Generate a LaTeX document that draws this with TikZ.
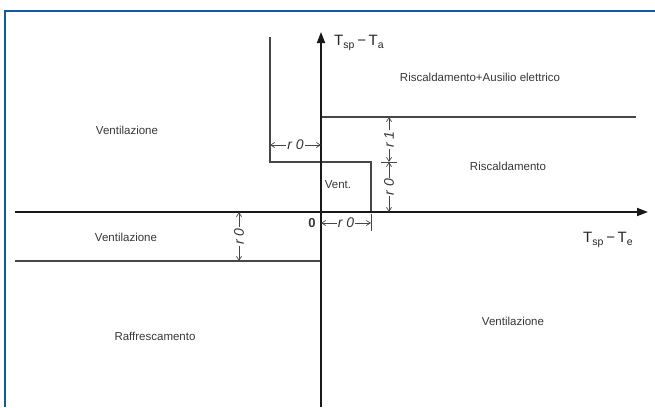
\documentclass[tikz,border=0pt]{standalone}
\usepackage{fontspec}
\setmainfont{Liberation Sans}
\usetikzlibrary{arrows.meta}
\definecolor{frameblue}{RGB}{22,88,160}
\definecolor{linegray}{RGB}{70,70,70}
\definecolor{txtgray}{RGB}{55,55,55}
\tikzset{
  axis/.style={draw=black!90, line width=1.8pt, -{Triangle[length=11pt,width=8pt]}},
  bound/.style={draw=linegray, line width=1.3pt},
  dimarr/.style={draw=linegray, line width=0.7pt, {Straight Barb[length=4pt,width=5pt]}-{Straight Barb[length=4pt,width=5pt]}},
  dimlbl/.style={fill=white, inner sep=1pt, text=txtgray, font=\fontsize{14}{14}\selectfont\itshape},
  region/.style={text=txtgray, font=\fontsize{11.5}{12}\selectfont, inner sep=0pt},
  axlbl/.style={text=black!85, font=\fontsize{15}{15}\selectfont, inner sep=0pt}
}
\begin{document}
\begin{tikzpicture}[x=1pt,y=-1pt]
\useasboundingbox (0,0) rectangle (655,407);
% frame
\draw[frameblue, line width=2.6pt] (5,407) -- (5,11) -- (655,11);
% coordinates
\coordinate (O) at (321,212);
\coordinate (xs) at (15,212);
\coordinate (xe) at (648,212);
\coordinate (ys) at (321,407);
\coordinate (ye) at (321,32);
% boundaries
\coordinate (a1) at (270,37);
\coordinate (a2) at (270,162);
\coordinate (a3) at (371,162);
\coordinate (a4) at (371,212);
\coordinate (u1) at (321,117);
\coordinate (u2) at (636,117);
\coordinate (l1) at (15,261);
\coordinate (l2) at (321,261);
\draw[bound] (a1) -- (a2) -- (a3) -- (a4);
\draw[bound] (u1) -- (u2);
\draw[bound] (l1) -- (l2);
% axes
\draw[axis] (ys) -- (ye);
\draw[axis] (xs) -- (xe);
\node[axlbl, anchor=west] (ya) at (334,43) {T\textsubscript{sp}\,−\,T\textsubscript{a}};
\node[axlbl, anchor=west] (xa) at (583,240) {T\textsubscript{sp}\,−\,T\textsubscript{e}};
\node[region, font=\fontsize{13}{13}\selectfont\bfseries] (zero) at (312,223) {0};
% dimensions
\coordinate (d1a) at (270,145);
\coordinate (d1b) at (321,145);
\draw[dimarr] (d1a) -- node[dimlbl] (r0a) {r 0} (d1b);
\coordinate (d2a) at (321,223);
\coordinate (d2b) at (371,223);
\coordinate (t1) at (371,214);
\coordinate (t2) at (371,231);
\draw[linegray, line width=0.7pt] (t1) -- (t2);
\draw[dimarr] (d2a) -- node[dimlbl] (r0b) {r 0} (d2b);
\coordinate (d3a) at (389,117);
\coordinate (d3b) at (389,162);
\coordinate (d3c) at (389,212);
\coordinate (k1) at (381,162);
\coordinate (k2) at (397,162);
\draw[linegray, line width=0.7pt] (k1) -- (k2);
\draw[dimarr] (d3a) -- node[dimlbl, rotate=90] (r1) {r 1} (d3b);
\draw[dimarr] (d3b) -- node[dimlbl, rotate=90] (r0c) {r 0} (d3c);
\coordinate (d4a) at (239,212);
\coordinate (d4b) at (239,261);
\draw[dimarr] (d4a) -- node[dimlbl, rotate=90] (r0d) {r 0} (d4b);
% region labels
\node[region] (v1) at (127,130) {Ventilazione};
\node[region] (rae) at (480,77) {Riscaldamento+Ausilio elettrico};
\node[region] (ris) at (508,166) {Riscaldamento};
\node[region] (vent) at (338,185) {Vent.};
\node[region] (v2) at (126,237) {Ventilazione};
\node[region] (raf) at (155,336) {Raffrescamento};
\node[region] (v3) at (513,321) {Ventilazione};
\end{tikzpicture}
\end{document}
